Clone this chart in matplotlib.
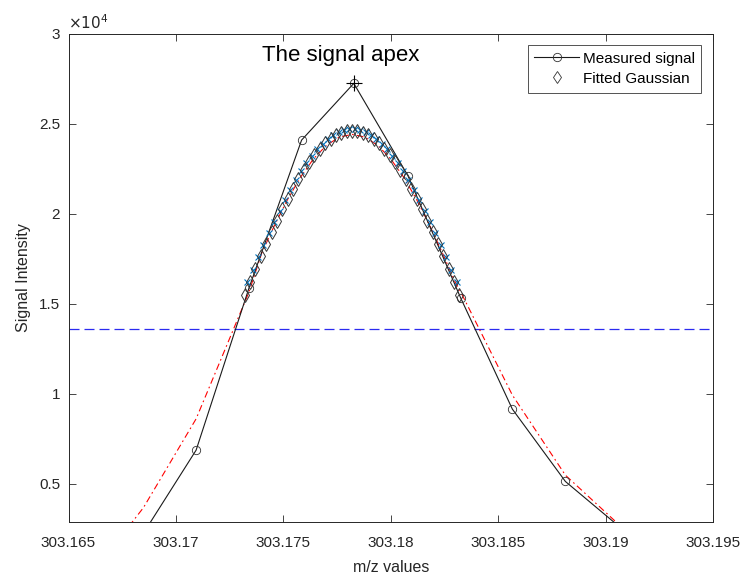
import matplotlib
matplotlib.use("Agg")
import matplotlib.pyplot as plt
from matplotlib.lines import Line2D

plt.rcParams['font.family'] = ['Liberation Sans', 'DejaVu Sans']

# Measured signal
meas_mz = [303.16849, 303.17094, 303.17340, 303.17585, 303.17828, 303.18080,
           303.18326, 303.18566, 303.18813, 303.19070]
meas_int = [2250, 6860, 15860, 24080, 27230, 22100, 15300, 9140, 5120, 2550]

# Signal apex
apex_mz = 303.17828
apex_int = 27230

# Half-maximum level
half_max = 13615

# Fitted Gaussian (diamonds)
fit_mz = [303.1732, 303.17345, 303.1737, 303.17395, 303.1742, 303.17445, 303.1747,
          303.17495, 303.1752, 303.17545, 303.1757, 303.17595, 303.1762, 303.17645,
          303.1767, 303.17695, 303.1772, 303.17745, 303.1777, 303.17795, 303.1782,
          303.17845, 303.1787, 303.17895, 303.1792, 303.17945, 303.1797, 303.17995,
          303.1802, 303.18045, 303.1807, 303.18095, 303.1812, 303.18145, 303.1817,
          303.18195, 303.1822, 303.18245, 303.1827, 303.18295, 303.1832]
fit_int = [15495, 16209, 16917, 17616, 18300, 18967, 19614, 20235, 20829, 21390,
           21915, 22402, 22846, 23246, 23597, 23899, 24149, 24345, 24487, 24572,
           24600,
           24572, 24487, 24345, 24149, 23899, 23597, 23246, 22846, 22402, 21915,
           21390, 20829, 20235, 19614, 18967, 18300, 17616, 16917, 16209, 15495]

# Blue 'x' series
xs_mz = [303.173325, 303.173575, 303.173825, 303.174075, 303.174325, 303.174575,
         303.174825, 303.175075, 303.175325, 303.175575, 303.175825, 303.176075,
         303.176325, 303.176575, 303.176825, 303.177075, 303.177325, 303.177575,
         303.177825, 303.178075, 303.178325, 303.178575, 303.178825, 303.179075,
         303.179325, 303.179575, 303.179825, 303.180075, 303.180325, 303.180575,
         303.180825, 303.181075, 303.181325, 303.181575, 303.181825, 303.182075,
         303.182325, 303.182575, 303.182825, 303.183075]
xs_int = [16180, 16879, 17568, 18246, 18907, 19549, 20167, 20759, 21321, 21849,
          22340, 22792, 23202, 23566, 23883, 24150, 24366, 24529, 24638, 24693,
          24693, 24638, 24529, 24366, 24150, 23883, 23566, 23202, 22792, 22340,
          21849, 21321, 20759, 20167, 19549, 18907, 18246, 17568, 16879, 16180]

# Red dash-dot curve
red_mz = [303.1661, 303.16849, 303.17094, 303.1734, 303.1740, 303.1746, 303.1752,
          303.1758, 303.1764, 303.1770, 303.1776, 303.1782, 303.1788, 303.1794,
          303.1800, 303.1806, 303.1812, 303.1818, 303.1824, 303.1830, 303.18326,
          303.18566, 303.18813, 303.19058]
red_int = [0, 3670, 8600, 15640, 17825, 19373, 20788, 22022, 23033, 23783, 24244,
           24400, 24244, 23783, 23033, 22022, 20788, 19373, 17825, 16191, 15640,
           9920, 5470, 2770]

xtick_vals = [303.165, 303.17, 303.175, 303.18, 303.185, 303.19, 303.195]
xtick_labels = ['303.165', '303.17', '303.175', '303.18', '303.185', '303.19', '303.195']
ytick_vals = [5000, 10000, 15000, 20000, 25000, 30000]
ytick_labels = ['0.5', '1', '1.5', '2', '2.5', '3']

TC = '#262626'
fig = plt.figure(figsize=(7.48, 5.75), dpi=100)
ax = fig.add_axes([68.5 / 748, 53 / 575, (713 - 68.5) / 748, (522 - 33.5) / 575])

ax.plot(red_mz, red_int, color='red', lw=0.8, linestyle=(0, (6, 3, 1.5, 3)), zorder=2)
ax.axhline(half_max, color='#2b2bf0', lw=0.9, linestyle=(0, (8, 4)), zorder=1)
ax.plot(meas_mz, meas_int, color='#1a1a1a', lw=0.8, marker='o', markersize=6,
        markerfacecolor='none', markeredgecolor='#333333', markeredgewidth=0.6, zorder=3)
ax.plot(xs_mz, xs_int, linestyle='none', marker='x', markersize=5,
        color='#0072BD', markeredgewidth=0.8, zorder=4)
ax.plot(fit_mz, fit_int, linestyle='none', marker='d', markersize=7.5,
        markerfacecolor='none', markeredgecolor='#333333', markeredgewidth=0.7, zorder=5)
ax.plot([apex_mz], [apex_int], linestyle='none', marker='+', markersize=12,
        color='black', markeredgewidth=0.8, zorder=6)

ax.text(303.1740, 28800, 'The signal apex', fontsize=16, ha='left', va='center',
        color='black')

ax.set_xlim(303.165, 303.195)
ax.set_ylim(2870, 30000)
ax.set_xticks(xtick_vals)
ax.set_xticklabels(xtick_labels)
ax.set_yticks(ytick_vals)
ax.set_yticklabels(ytick_labels)
ax.tick_params(direction='in', length=5, width=0.6, colors=TC, labelsize=11,
               top=True, right=True, labelcolor=TC)
ax.tick_params(axis='x', pad=10)
ax.tick_params(axis='y', pad=6)
for s in ax.spines.values():
    s.set_color(TC)
    s.set_linewidth(0.7)

ax.text(0.0, 1.003, r'$\times10^{4}$', transform=ax.transAxes, fontsize=11,
        color=TC, ha='left', va='bottom')

ax.set_xlabel('m/z values', fontsize=11.5, color=TC, labelpad=7)
ax.set_ylabel('Signal Intensity', fontsize=11.5, color=TC, labelpad=6)

handles = [
    Line2D([], [], color='#1a1a1a', lw=0.8, marker='o', markersize=6,
           markerfacecolor='none', markeredgecolor='#333333', markeredgewidth=0.6),
    Line2D([], [], linestyle='none', marker='d', markersize=6.5,
           markerfacecolor='none', markeredgecolor='#333333', markeredgewidth=0.6),
]
leg = ax.legend(handles, ['Measured signal', 'Fitted Gaussian'], loc='upper right',
                bbox_to_anchor=(0.982, 0.977), fontsize=11, frameon=True,
                fancybox=False, edgecolor='#262626', handlelength=2.9,
                borderpad=0.45, labelspacing=0.4, handletextpad=0.25, borderaxespad=0)
leg.get_frame().set_linewidth(0.7)

fig.savefig('out.png', dpi=100)
